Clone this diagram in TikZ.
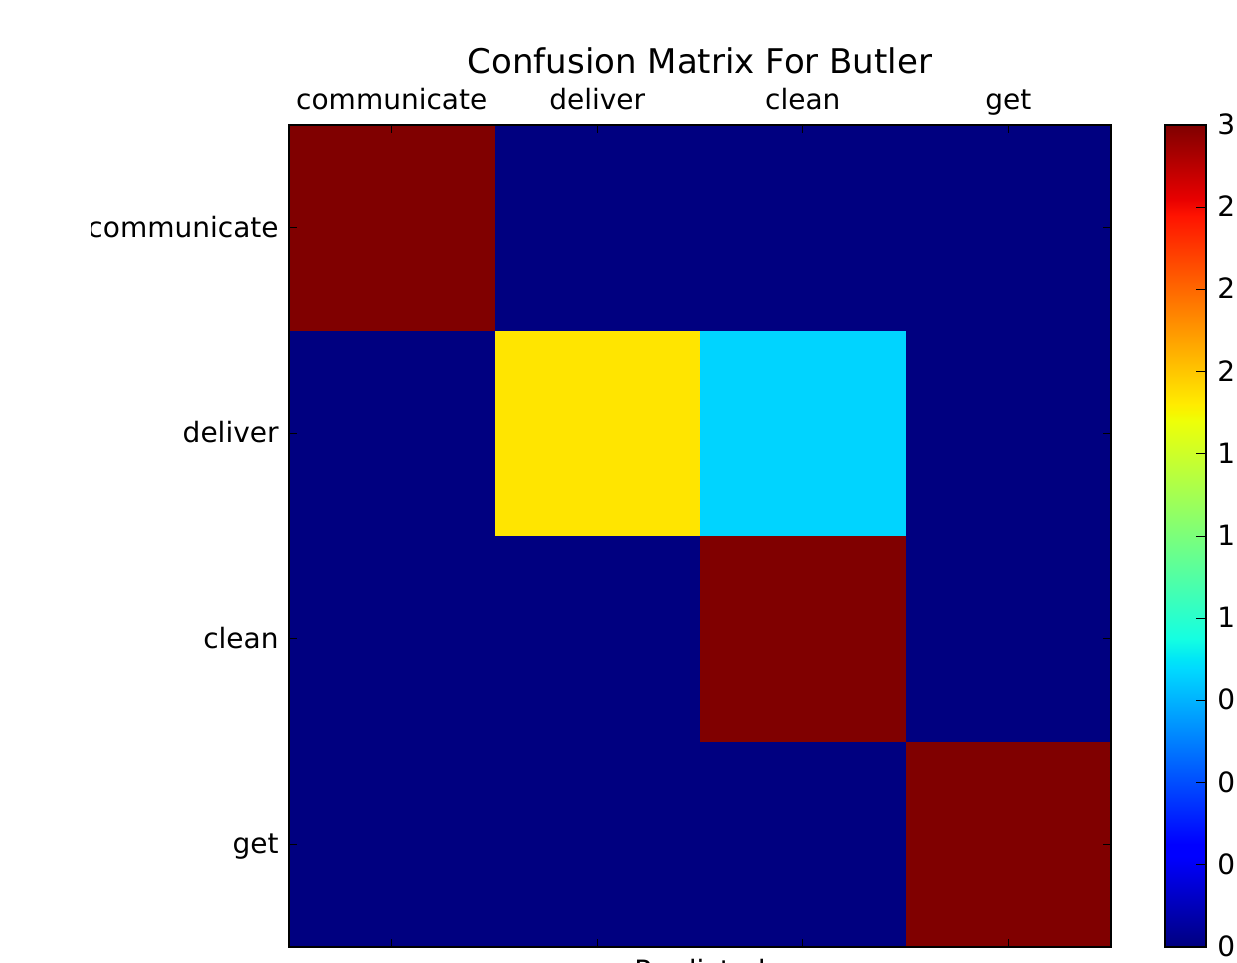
\documentclass[tikz,border=0pt]{standalone}
\usepackage{fontspec}
\setmainfont{DejaVu Sans}
\usepackage{tikz}
\usetikzlibrary{positioning}
\definecolor{jetlow}{RGB}{0,0,128}
\definecolor{jethigh}{RGB}{128,0,0}
\definecolor{jettwo}{RGB}{255,229,0}
\definecolor{jetone}{RGB}{0,212,255}
% jet colour map, stops placed on 25bp..75bp (the part TikZ fits to the path)
\pgfdeclareverticalshading{jetmap}{100bp}{rgb(0bp)=(0,0,0.5); rgb(25bp)=(0,0,0.5); rgb(30.5bp)=(0,0,1); rgb(31.25bp)=(0,0,1); rgb(42bp)=(0,0.86,1); rgb(42.5bp)=(0,0.9,0.968); rgb(43.75bp)=(0.081,1,0.887); rgb(57bp)=(0.935,1,0.032); rgb(57.5bp)=(0.968,0.963,0); rgb(58bp)=(1,0.926,0); rgb(69.5bp)=(1,0.074,0); rgb(70.5bp)=(0.909,0,0); rgb(75bp)=(0.5,0,0); rgb(100bp)=(0.5,0,0)}
\tikzset{ticklbl/.style={font=\fontsize{14}{16}\selectfont, inner sep=0pt}}

\begin{document}
\begin{tikzpicture}[x=0.5pt,y=-0.5pt]
\useasboundingbox (0,0) rectangle (1237,963);
\clip (0,0) rectangle (1237,963);
% matrix cells
\fill[jetlow] (289,125) rectangle (1111,947);
\foreach \r/\c/\col in {0/0/jethigh,1/1/jettwo,1/2/jetone,2/2/jethigh,3/3/jethigh} {
\fill[\col] ({289+205.5*\c},{125+205.5*\r}) rectangle +(205.5,205.5);
}
\draw[line width=1pt] (289,125) rectangle (1111,947);
\foreach \i in {0,...,3} {
\draw[line width=0.5pt] ({391.75+205.5*\i},125) -- ++(0,8);
\draw[line width=0.5pt] ({391.75+205.5*\i},947) -- ++(0,-8);
\draw[line width=0.5pt] (289,{227.75+205.5*\i}) -- ++(8,0);
\draw[line width=0.5pt] (1111,{227.75+205.5*\i}) -- ++(-8,0);
}
\foreach \name [count=\i from 0] in {communicate,deliver,clean,get} {
\node[ticklbl, anchor=base] (top\i) at ({391.75+205.5*\i},110) {\name};
}
\begin{scope}
\clip (91,0) rectangle (1237,963);
\foreach \name [count=\i from 0] in {communicate,deliver,clean,get} {
\node[ticklbl, anchor=base east] (left\i) at (279,{237+205.5*\i}) {\name};
}
\end{scope}
\node[font=\fontsize{17}{20}\selectfont, inner sep=0pt, anchor=base] (title) at (700,74) {Confusion Matrix For Butler};
\node[ticklbl, anchor=base] (xlab) at (700,980) {Predicted};
% colorbar
\shade[shading=jetmap] (1165,125) rectangle (1206,947);
\draw[line width=1pt] (1165,125) rectangle (1206,947);
\foreach \v [count=\k from 0] in {3,2,2,2,1,1,1,0,0,0,0} {
\draw[line width=0.5pt] (1206,{125+82.2*\k}) -- ++(-10,0);
\node[ticklbl, anchor=base west] (cb\k) at (1217,{134.5+82.2*\k}) {\v};
}
\end{tikzpicture}
\end{document}
